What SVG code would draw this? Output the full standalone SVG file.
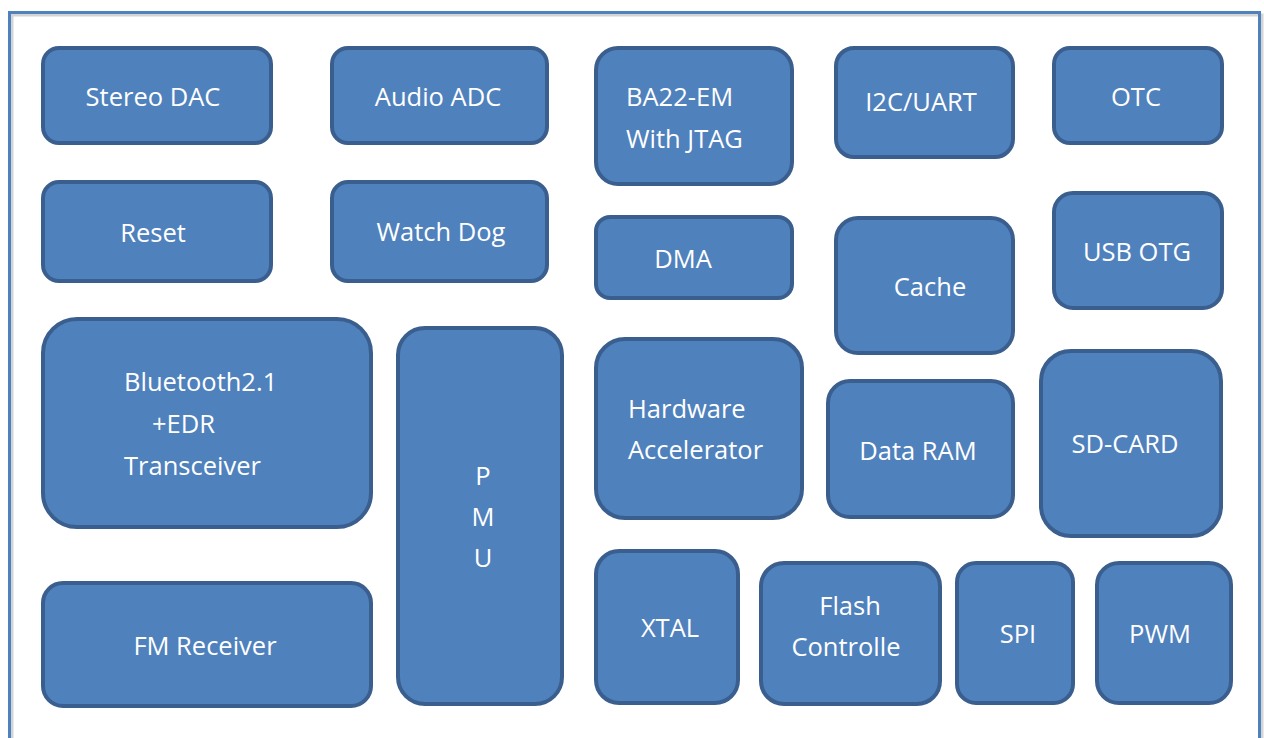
<svg xmlns="http://www.w3.org/2000/svg" width="1264" height="738" viewBox="0 0 1264 738">
<style>
.b{fill:#4F81BD;stroke:#3A5F8E;stroke-width:4}
.t{font-family:"Open Sans","Liberation Sans",sans-serif;font-size:25.5px;fill:#FFFFFF}
.m{text-anchor:middle}
</style>
<rect width="1264" height="738" fill="#FFFFFF"/>
<g id="frame">
<rect x="12" y="15" width="1250" height="740" fill="none" stroke="#D4D4D4" stroke-width="3"/>
<rect x="9.5" y="12.5" width="1250" height="740" fill="none" stroke="#4F81BD" stroke-width="3"/>
</g>
<g id="connectors"></g>
<g id="stereo-dac"><rect class="b" x="43" y="48" width="228" height="95" rx="16"/><text class="t m" x="153" y="106">Stereo DAC</text></g>
<g id="audio-adc"><rect class="b" x="332" y="48" width="215" height="95" rx="16"/><text class="t m" x="438" y="106">Audio ADC</text></g>
<g id="ba22"><rect class="b" x="596" y="48" width="196" height="136" rx="22"/><text class="t" x="626" y="106">BA22-EM</text><text class="t" x="626" y="148">With JTAG</text></g>
<g id="i2c-uart"><rect class="b" x="836" y="48" width="177" height="109" rx="18"/><text class="t m" x="921" y="111">I2C/UART</text></g>
<g id="otc"><rect class="b" x="1054" y="48" width="168" height="95" rx="16"/><text class="t m" x="1136" y="106">OTC</text></g>
<g id="reset"><rect class="b" x="43" y="182" width="228" height="99" rx="16"/><text class="t m" x="153" y="242">Reset</text></g>
<g id="watch-dog"><rect class="b" x="332" y="182" width="215" height="99" rx="16"/><text class="t m" x="441" y="241">Watch Dog</text></g>
<g id="dma"><rect class="b" x="596" y="217" width="196" height="81" rx="14"/><text class="t m" x="683" y="268">DMA</text></g>
<g id="cache"><rect class="b" x="836" y="218" width="177" height="135" rx="22"/><text class="t m" x="930" y="296">Cache</text></g>
<g id="usb-otg"><rect class="b" x="1054" y="193" width="168" height="115" rx="19"/><text class="t m" x="1137" y="261">USB OTG</text></g>
<g id="bluetooth"><rect class="b" x="43" y="319" width="328" height="208" rx="34"/><text class="t" x="124" y="391">Bluetooth2.1</text><text class="t" x="152" y="433">+EDR</text><text class="t" x="124" y="475">Transceiver</text></g>
<g id="pmu"><rect class="b" x="398" y="328" width="164" height="376" rx="27"/><text class="t m" x="483" y="485">P</text><text class="t m" x="483" y="526">M</text><text class="t m" x="483" y="567">U</text></g>
<g id="hw-accel"><rect class="b" x="596" y="339" width="206" height="179" rx="29"/><text class="t" x="628" y="418">Hardware</text><text class="t" x="628" y="459">Accelerator</text></g>
<g id="data-ram"><rect class="b" x="828" y="381" width="185" height="136" rx="22"/><text class="t m" x="918" y="460">Data RAM</text></g>
<g id="sd-card"><rect class="b" x="1041" y="351" width="180" height="185" rx="30"/><text class="t m" x="1125" y="453">SD-CARD</text></g>
<g id="fm-receiver"><rect class="b" x="43" y="583" width="328" height="123" rx="20"/><text class="t m" x="205" y="655">FM Receiver</text></g>
<g id="xtal"><rect class="b" x="596" y="551" width="142" height="152" rx="23"/><text class="t m" x="670" y="637">XTAL</text></g>
<g id="flash"><rect class="b" x="761" y="563" width="179" height="141" rx="23"/><text class="t m" x="850" y="615">Flash</text><text class="t m" x="846" y="656">Controlle</text></g>
<g id="spi"><rect class="b" x="957" y="563" width="116" height="140" rx="19"/><text class="t m" x="1018" y="643">SPI</text></g>
<g id="pwm"><rect class="b" x="1097" y="563" width="134" height="140" rx="22"/><text class="t m" x="1160" y="643">PWM</text></g>
</svg>
